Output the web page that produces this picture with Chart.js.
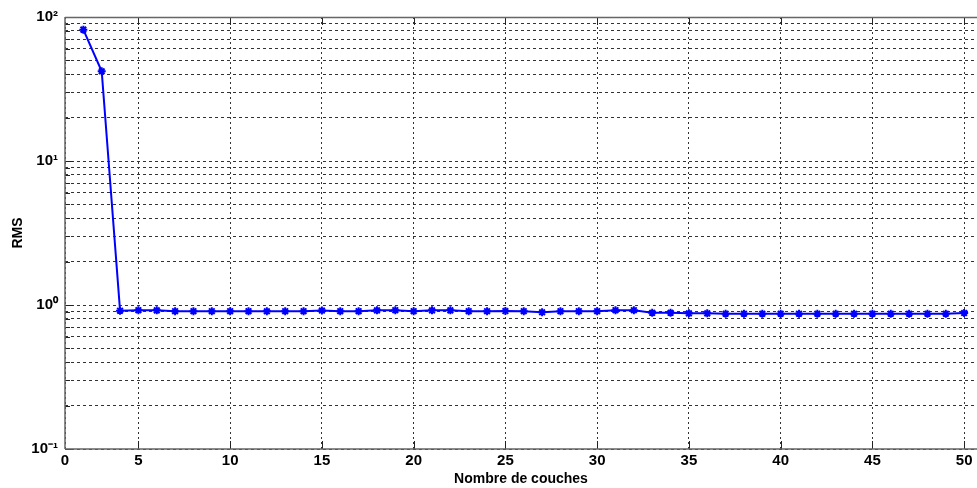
<!DOCTYPE html>
<html>
<head>
<meta charset="utf-8">
<script src="https://cdn.jsdelivr.net/npm/chart.js@4/dist/chart.umd.min.js"></script>
<style>
html,body{margin:0;padding:0;background:#fff;overflow:hidden;}
canvas{display:block;}
</style>
</head>
<body>
<canvas id="c" width="977" height="488" style="width:977px;height:488px"></canvas>
<script>
const layers = [2,3,4,5,6,7,8,9,10,11,12,13,14,15,16,17,18,19,20,21,22,23,24,25,26,27,28,29,30,31,32,33,34,35,36,37,38,39,40,41,42,43,44,45,46,47,48,49,50];
const rms = [81.7,42,0.913,0.92,0.918,0.905,0.905,0.905,0.905,0.905,0.904,0.905,0.905,0.915,0.905,0.905,0.918,0.92,0.905,0.918,0.918,0.905,0.905,0.908,0.905,0.89,0.905,0.905,0.905,0.92,0.92,0.883,0.883,0.875,0.875,0.87,0.87,0.87,0.87,0.87,0.87,0.87,0.87,0.87,0.87,0.87,0.87,0.87,0.88];
const xTickValues = [1,5,10,15,20,25,30,35,40,45,50];
const xTickLabels = ['0','5','10','15','20','25','30','35','40','45','50'];
const yTickValues = [0.1,0.2,0.3,0.4,0.5,0.6,0.7,0.8,0.9,1,2,3,4,5,6,7,8,9,10,20,30,40,50,60,70,80,90,100];
const yMajor = {0.1:'10\u207B\u00B9',1:'10\u2070',10:'10\u00B9',100:'10\u00B2'};

const noPad = ()=>({left:0,top:0,right:0,bottom:0});

const frame = {
  id:'frame',
  afterDatasetsDraw(chart){
    const {ctx, chartArea:a, scales} = chart;
    ctx.save();
    ctx.strokeStyle = '#222';
    ctx.lineWidth = 1;
    ctx.beginPath();
    scales.y.ticks.forEach(t=>{
      const y = Math.round(scales.y.getPixelForValue(t.value))+0.5;
      const len = yMajor[t.value] ? 8 : 5;
      ctx.moveTo(a.left, y); ctx.lineTo(a.left+len, y);
    });
    scales.x.ticks.forEach(t=>{
      if (t.value===xTickValues[0]) return;
      const x = Math.round(scales.x.getPixelForValue(t.value))+0.5;
      ctx.moveTo(x, a.bottom); ctx.lineTo(x, a.bottom-8);
      ctx.moveTo(x, a.top); ctx.lineTo(x, a.top+8);
    });
    ctx.stroke();
    ctx.strokeStyle = '#666';
    ctx.lineWidth = 1.5;
    ctx.beginPath();
    ctx.moveTo(a.left, a.top+0.5); ctx.lineTo(a.right, a.top+0.5);
    ctx.moveTo(a.left, a.bottom); ctx.lineTo(a.right, a.bottom);
    ctx.moveTo(a.left, a.top); ctx.lineTo(a.left, a.bottom);
    ctx.stroke();
    ctx.restore();
  }
};

new Chart(document.getElementById('c'), {
  type:'line',
  data:{
    datasets:[{
      data: layers.map((x,i)=>({x:x, y:rms[i]})),
      borderColor:'#0000ff',
      backgroundColor:'#0000ff',
      borderWidth:2,
      pointStyle:'star',
      pointRadius:4,
      pointBorderWidth:2,
      pointBorderColor:'#0000ff',
      tension:0
    }]
  },
  options:{
    responsive:false,
    maintainAspectRatio:false,
    animation:false,
    devicePixelRatio:1,
    layout:{autoPadding:false, padding:{top:17,right:0,left:0,bottom:0}},
    plugins:{legend:{display:false},tooltip:{enabled:false}},
    scales:{
      x:{
        type:'linear',
        min:1, max:50.7,
        afterBuildTicks(s){ s.ticks = xTickValues.map(v=>({value:v})); },
        afterFit(s){ s.height = 39; s.paddingRight = 0; s.paddingLeft = 0; s.getPadding = noPad; },
        ticks:{
          autoSkip:false, maxRotation:0,
          color:'#000', padding:3,
          font:{family:'Liberation Sans, Arial, sans-serif', size:15, weight:'bold'},
          callback:(v)=>{ const i = xTickValues.indexOf(v); return i>=0 ? xTickLabels[i] : ''; }
        },
        grid:{color:'#333', lineWidth:1, drawTicks:false},
        border:{display:false, dash:[2,3]},
        title:{display:true, text:'Nombre de couches', color:'#000', padding:{top:0,bottom:0},
          font:{family:'Liberation Sans, Arial, sans-serif', size:14, weight:'bold'}}
      },
      y:{
        type:'logarithmic',
        min:0.1, max:100,
        afterBuildTicks(s){ s.ticks = yTickValues.map(v=>({value:v, major: !!yMajor[v]})); },
        afterFit(s){ s.width = 65; s.paddingTop = 0; s.paddingBottom = 0; s.getPadding = noPad; },
        ticks:{
          autoSkip:false, color:'#000', padding:7,
          font:{family:'Liberation Sans, Arial, sans-serif', size:15, weight:'bold'},
          callback:(v)=> yMajor[v] || ''
        },
        grid:{color:'#333', lineWidth:1, drawTicks:false},
        border:{display:false, dash:[3,3]},
        title:{display:true, text:'RMS', color:'#000', padding:{top:10,bottom:0},
          font:{family:'Liberation Sans, Arial, sans-serif', size:14, weight:'bold'}}
      }
    }
  },
  plugins:[frame]
});
</script>
</body>
</html>
